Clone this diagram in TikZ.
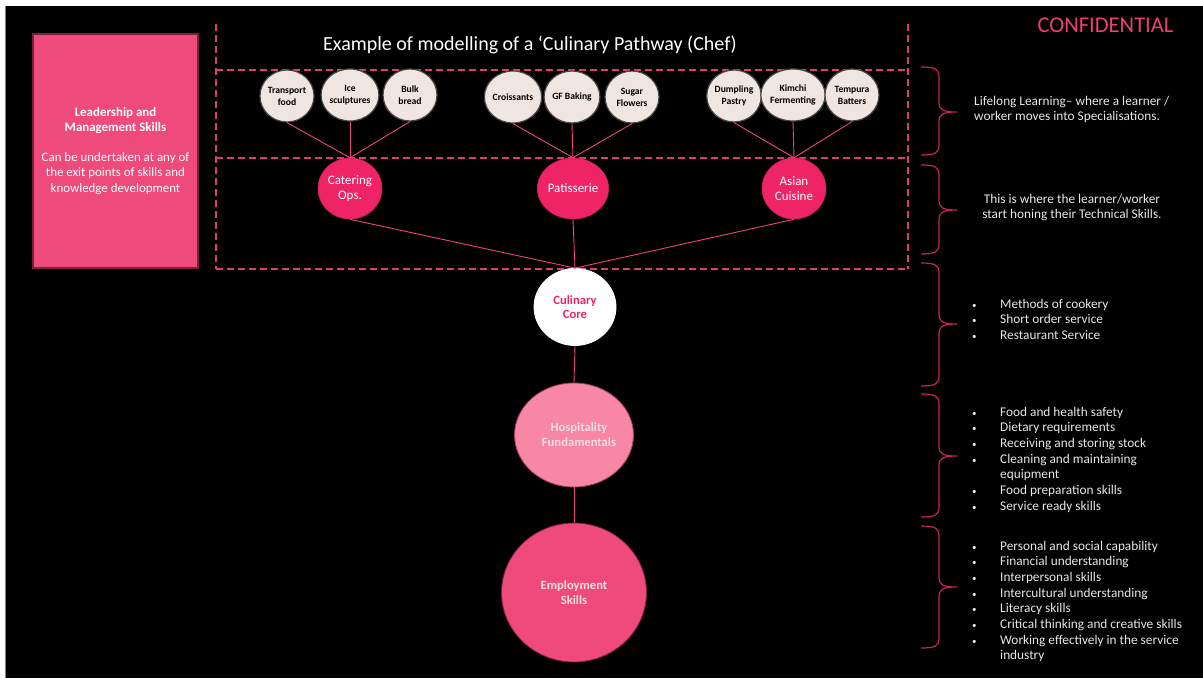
\documentclass[tikz,border=0pt]{standalone}
\usepackage{fontspec}
\setmainfont{Carlito}
\usetikzlibrary{shapes.geometric}

\definecolor{pathpink}{HTML}{EE4A7C}
\definecolor{leadedge}{HTML}{7A1F3D}
\definecolor{hotpink}{HTML}{EE2467}
\definecolor{linkpink}{HTML}{E8457A}
\definecolor{dashpink}{HTML}{D93D74}
\definecolor{bracepink}{HTML}{C8215F}
\definecolor{cream}{HTML}{EFE6E2}
\definecolor{creamedge}{HTML}{4A4444}
\definecolor{softpink}{HTML}{F886A6}
\definecolor{paletext}{HTML}{F3DEE3}
\definecolor{corepink}{HTML}{E8246A}
\definecolor{confpink}{HTML}{EC3F73}
\definecolor{listgray}{HTML}{E6E6E6}

% right-hand curly brace: top y, tip y, bottom y
\newcommand\sidebrace[3]{%
  \draw[bracestroke] (921,#1) .. controls (935,#1) and (939,#1+2) .. (939,#1+10)
    -- (939,#2-10) .. controls (939,#2-2) and (943,#2) .. (957,#2)
    .. controls (943,#2) and (939,#2+2) .. (939,#2+10)
    -- (939,#3-10) .. controls (939,#3-2) and (935,#3) .. (921,#3);}
\newcommand\dotmark{{\fontsize{9}{9}\selectfont\textbullet}}

\begin{document}
\begin{tikzpicture}[x=1pt,y=-1pt,
  spec/.style={ellipse, draw=creamedge, line width=1.2pt, fill=cream,
    minimum width=54pt, minimum height=52pt, inner sep=0pt, align=center,
    font=\fontsize{9.6}{12}\selectfont\bfseries, text=black},
  stream/.style={ellipse, fill=hotpink, draw=hotpink!85!black, line width=0.6pt,
    minimum width=64pt, minimum height=61pt, inner sep=0pt, align=center,
    font=\fontsize{13}{14.5}\selectfont, text=white},
  level/.style={ellipse, line width=0.8pt, inner sep=0pt, align=center,
    font=\fontsize{12.6}{15}\selectfont\bfseries},
  link/.style={draw=linkpink, line width=0.9pt},
  zone/.style={draw=dashpink, line width=1.3pt, dash pattern=on 7pt off 4pt},
  bracestroke/.style={draw=bracepink, line width=1.2pt},
  note/.style={anchor=base west, inner sep=0pt, text=listgray,
    font=\fontsize{13.3}{15.7}\selectfont}]

\useasboundingbox (0,0) rectangle (1203,678);
\fill[white] (0,0) rectangle (1203,678);
\fill[black] (5,6) rectangle (1203,678);
\draw[gray, line width=0.6pt] (5.3,6) -- (5.3,678);

% pathway frame
\draw[zone] (216,24) -- (216,269);
\draw[zone] (908,24) -- (908,269);
\draw[zone] (216,70) -- (908,70);
\draw[zone] (216,158) -- (908,158);
\draw[zone] (216,269) -- (908,269);

\node[anchor=base, font=\fontsize{20}{24}\selectfont, text=white, inner sep=0pt]
  (title) at (530,50) {Example of modelling of a ‘Culinary Pathway (Chef)};
\node[anchor=base, font=\fontsize{22.5}{26}\selectfont, text=confpink, inner sep=0pt]
  (conf) at (1105.5,32) {CONFIDENTIAL};

% leadership box
\node[fill=pathpink, draw=leadedge, line width=1.2pt, minimum width=165pt,
  minimum height=234pt, inner sep=0pt, text=white,
  font=\fontsize{12.9}{15.2}\selectfont] (lead) at (115.5,151)
  {\begin{tabular}{@{}c@{}}\bfseries Leadership and\\ \bfseries Management Skills\\[15.2pt]
   Can be undertaken at any of\\ the exit points of skills and\\ knowledge development\end{tabular}};

% specialisations
\node[spec] (transport) at (287,96) {Transport\\food};
\node[spec] (ice) at (350,95) {Ice\\sculptures};
\node[spec] (bulk) at (410,95) {Bulk\\bread};
\node[spec] (croissant) at (513,97) {Croissants};
\node[spec] (gfbaking) at (572,97) {GF Baking};
\node[spec] (sugar) at (632,97) {Sugar\\Flowers};
\node[spec] (dumpling) at (734,96) {Dumpling\\Pastry};
\node[spec] (kimchi) at (793,95) {Kimchi\\Fermenting};
\node[spec] (tempura) at (852,95) {Tempura\\Batters};

% technical streams
\node[stream] (catering) at (350,188.5) {Catering\\Ops.};
\node[stream] (patisserie) at (573,188.5) {Patisserie};
\node[stream] (asian) at (794,188.5) {Asian\\Cuisine};

% foundation levels
\node[level, fill=white, draw=white, minimum width=82pt, minimum height=77pt,
  text=corepink, font=\fontsize{12.6}{14}\selectfont\bfseries] (core) at (575,307) {Culinary\\Core};
\node[level, fill=softpink, draw=leadedge!70!softpink, minimum width=112pt, minimum height=104pt,
  text=paletext] (hosp) at (574,435) {\hspace*{10pt}Hospitality\\\hspace*{10pt}Fundamentals};
\node[level, fill=pathpink, draw=leadedge, minimum width=145pt, minimum height=139pt,
  text=paletext] (employ) at (574,592.5) {Employment\\Skills};

% connectors
\foreach \s in {transport, ice, bulk} \draw[link] (\s.south) -- (catering.north);
\foreach \s in {croissant, gfbaking, sugar} \draw[link] (\s.south) -- (patisserie.north);
\foreach \s in {dumpling, kimchi, tempura} \draw[link] (\s.south) -- (asian.north);
\foreach \s in {catering, patisserie, asian} \draw[link] (\s.south) -- (core.north);
\draw[link] (core.south) -- (hosp.north);
\draw[link] (hosp.south) -- (employ.north);

% braces
\sidebrace{67}{112}{155}
\sidebrace{165}{210}{254}
\sidebrace{263}{324}{386}
\sidebrace{394}{456}{517}
\sidebrace{526}{587}{648}

% notes
\node[note] (specnote) at (974,105) {\begin{tabular}[t]{@{}l@{}}Lifelong Learning– where a learner /\\ worker moves into Specialisations.\end{tabular}};
\node[note, anchor=base] (technote) at (1072,203) {\begin{tabular}[t]{@{}c@{}}This is where the learner/worker\\ start honing their Technical Skills.\end{tabular}};
\node[note] (corelist) at (972,308) {\begin{tabular}[t]{@{}p{28pt}@{}l@{}}
  \dotmark & Methods of cookery\\
  \dotmark & Short order service\\
  \dotmark & Restaurant Service\end{tabular}};
\node[note] (hosplist) at (972,416) {\begin{tabular}[t]{@{}p{28pt}@{}l@{}}
  \dotmark & Food and health safety\\
  \dotmark & Dietary requirements\\
  \dotmark & Receiving and storing stock\\
  \dotmark & Cleaning and maintaining\\
           & equipment\\
  \dotmark & Food preparation skills\\
  \dotmark & Service ready skills\end{tabular}};
\node[note] (employlist) at (972,550) {\begin{tabular}[t]{@{}p{28pt}@{}l@{}}
  \dotmark & Personal and social capability\\
  \dotmark & Financial understanding\\
  \dotmark & Interpersonal skills\\
  \dotmark & Intercultural understanding\\
  \dotmark & Literacy skills\\
  \dotmark & Critical thinking and creative skills\\
  \dotmark & Working effectively in the service\\
           & industry\end{tabular}};
\end{tikzpicture}
\end{document}
